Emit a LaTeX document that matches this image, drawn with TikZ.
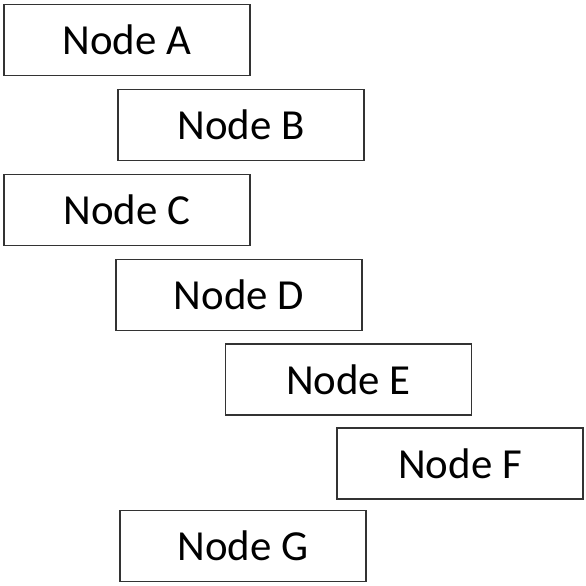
\documentclass[tikz,border=0pt]{standalone}
\usepackage{fontspec}
\setmainfont{Carlito}
\usepackage{tikz}
\tikzset{
	boxstyle/.style={rectangle,draw=black!80,line width=1.2bp,fill=white,minimum width=246bp,minimum height=71bp,inner sep=0pt,font=\fontsize{43}{50}\selectfont}
}
\begin{document}
\begin{tikzpicture}[x=1bp,y=-1bp]
	\useasboundingbox (0,0) rectangle (586,586);
	\node[boxstyle] (a) at (127,40) {Node A};
	\node[boxstyle] (b) at (241,125) {Node B};
	\node[boxstyle] (c) at (127,210) {Node C};
	\node[boxstyle] (d) at (239,295) {Node D};
	\node[boxstyle] (e) at (348.5,379.5) {Node E};
	\node[boxstyle] (f) at (460,463.5) {Node F};
	\node[boxstyle] (g) at (243,546) {Node G};
\end{tikzpicture}
\end{document}
